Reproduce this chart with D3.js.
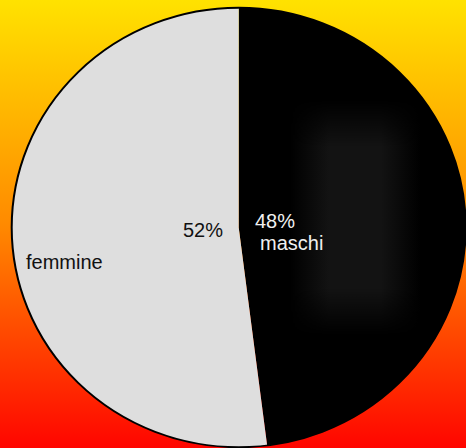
<!DOCTYPE html>
<html>
<head>
<meta charset="utf-8">
<script src="https://cdn.jsdelivr.net/npm/d3@7"></script>
<style>
  body { margin: 0; }
  svg { display: block; }
</style>
</head>
<body>
<svg id="chart" width="466" height="448"></svg>
<script>
// data
const categories = ["maschi", "femmine"];
const values = [48, 52];
const pctLabels = ["48%", "52%"];
const colors = ["#000000", "#dedede"];

const width = 466, height = 448;
const cx = 238.7, cy = 227.5, r = 227;

const svg = d3.select("#chart");

// background gradient yellow -> red
const defs = svg.append("defs");
const grad = defs.append("linearGradient")
  .attr("id", "bg")
  .attr("x1", 0).attr("y1", 0).attr("x2", 0).attr("y2", 1);
grad.append("stop").attr("offset", "0%").attr("stop-color", "#ffe200");
grad.append("stop").attr("offset", "50%").attr("stop-color", "#ff8a00");
grad.append("stop").attr("offset", "100%").attr("stop-color", "#ff0500");

// soft patch: horizontal fade for the fill, vertical fade for the mask
const hg = defs.append("linearGradient").attr("id", "patchH")
  .attr("x1", 0).attr("y1", 0).attr("x2", 1).attr("y2", 0);
hg.append("stop").attr("offset", "0%").attr("stop-color", "#131313").attr("stop-opacity", 0);
hg.append("stop").attr("offset", "30%").attr("stop-color", "#131313").attr("stop-opacity", 1);
hg.append("stop").attr("offset", "70%").attr("stop-color", "#131313").attr("stop-opacity", 1);
hg.append("stop").attr("offset", "100%").attr("stop-color", "#131313").attr("stop-opacity", 0);

const vg = defs.append("linearGradient").attr("id", "patchV")
  .attr("x1", 0).attr("y1", 0).attr("x2", 0).attr("y2", 1);
vg.append("stop").attr("offset", "0%").attr("stop-color", "#fff").attr("stop-opacity", 0);
vg.append("stop").attr("offset", "20%").attr("stop-color", "#fff").attr("stop-opacity", 1);
vg.append("stop").attr("offset", "80%").attr("stop-color", "#fff").attr("stop-opacity", 1);
vg.append("stop").attr("offset", "100%").attr("stop-color", "#fff").attr("stop-opacity", 0);

defs.append("mask").attr("id", "patchMask")
  .attr("maskUnits", "userSpaceOnUse")
  .attr("x", 0).attr("y", 0).attr("width", width).attr("height", height)
  .append("rect")
    .attr("x", 290).attr("y", 100)
    .attr("width", 130).attr("height", 235)
    .attr("fill", "url(#patchV)");

svg.append("rect")
  .attr("width", width).attr("height", height)
  .attr("fill", "url(#bg)");

const pie = d3.pie().sort(null).value(d => d);
const arcs = pie(values);
const arc = d3.arc().innerRadius(0).outerRadius(r);

const g = svg.append("g")
  .attr("transform", "translate(" + cx + "," + cy + ") scale(1,0.968)");

g.selectAll("path.slice")
  .data(arcs)
  .enter()
    .append("path")
    .attr("class", "slice")
    .attr("d", arc)
    .attr("fill", (d, i) => colors[i]);

// outline
g.append("circle")
  .attr("r", r)
  .attr("fill", "none")
  .attr("stroke", "#000")
  .attr("stroke-width", 2);

// faint dark patch inside the black slice
svg.append("rect")
  .attr("x", 290).attr("y", 100)
  .attr("width", 130).attr("height", 235)
  .attr("fill", "url(#patchH)")
  .attr("mask", "url(#patchMask)");

// labels
const font = "Liberation Sans, Arial, sans-serif";
const labels = [
  { text: pctLabels[0], x: 255, y: 228, fill: "#f0f0f0" },
  { text: categories[0], x: 260, y: 250, fill: "#f0f0f0" },
  { text: pctLabels[1], x: 183, y: 237, fill: "#111" },
  { text: categories[1], x: 26, y: 269, fill: "#111" }
];

svg.selectAll("text.lbl")
  .data(labels)
  .enter()
    .append("text")
    .attr("class", "lbl")
    .attr("x", d => d.x)
    .attr("y", d => d.y)
    .attr("fill", d => d.fill)
    .style("font-family", font)
    .style("font-size", "20px")
    .text(d => d.text);
</script>
</body>
</html>
